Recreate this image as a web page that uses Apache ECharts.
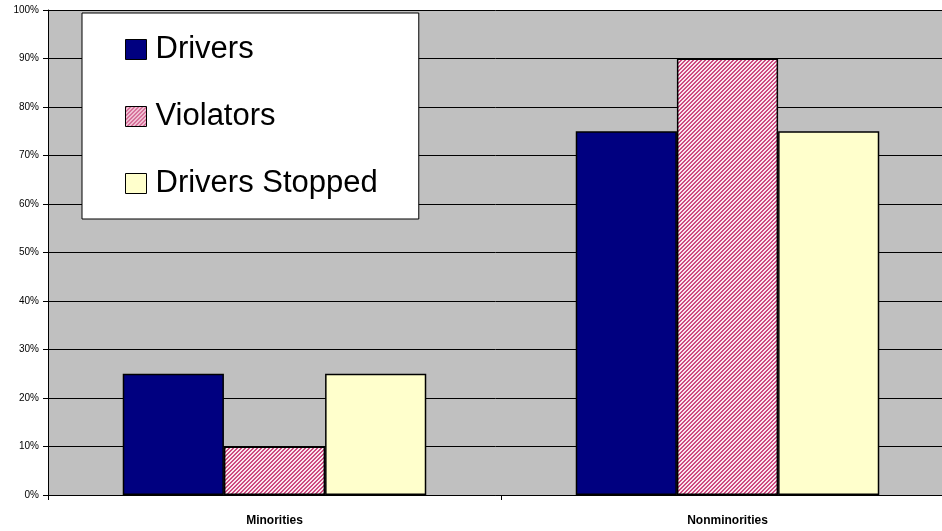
<!DOCTYPE html>
<html>
<head>
<meta charset="utf-8">
<script src="https://cdn.jsdelivr.net/npm/echarts@6/dist/echarts.min.js"></script>
<style>
  html, body { margin: 0; padding: 0; background: #fff; }
  #chart { width: 942px; height: 531px; }
</style>
</head>
<body>
<div id="chart"></div>
<script>
var categories = ["Minorities", "Nonminorities"];
var drivers = [25, 75];
var violators = [10, 90];
var driversStopped = [25, 75];
var yTicks = [0, 10, 20, 30, 40, 50, 60, 70, 80, 90, 100];

// hatched fill for the violators bars
function hatch() {
  var c = document.createElement("canvas");
  c.width = 4;
  c.height = 4;
  var ctx = c.getContext("2d");
  ctx.fillStyle = "#fbe6ee";
  ctx.fillRect(0, 0, 4, 4);
  ctx.fillStyle = "#cc4a80";
  for (var x = 0; x < 4; x++) {
    for (var y = 0; y < 4; y++) {
      if ((x + y) % 4 === 0 || (x + y) % 4 === 1) ctx.fillRect(x, y, 1, 1);
    }
  }
  return c;
}

var hatchFill = { image: hatch(), repeat: "repeat" };
var barBorder = { borderColor: "#000", borderWidth: 1.5 };

var myChart = echarts.init(document.getElementById("chart"));
myChart.setOption({
  animation: false,
  grid: {
    left: 48,
    width: 906,
    top: 10,
    bottom: 36,
    outerBoundsMode: "none",
    containLabel: false,
    show: true,
    backgroundColor: "#c0c0c0",
    borderWidth: 0,
  },
  legend: {
    orient: "vertical",
    left: 82,
    top: 13,
    padding: [21, 41, 20, 43],
    itemGap: 36,
    itemWidth: 21,
    itemHeight: 20,
    icon: "rect",
    backgroundColor: "#ffffff",
    borderColor: "#000",
    borderWidth: 1,
    itemStyle: { borderColor: "#000", borderWidth: 1 },
    textStyle: {
      fontFamily: "Liberation Sans, Arial",
      fontSize: 31,
      color: "#000",
      padding: [0, 0, 0, 4],
    },
    data: ["Drivers", "Violators", "Drivers Stopped"],
  },
  xAxis: {
    type: "category",
    data: categories,
    axisLine: { lineStyle: { color: "#000", width: 1 } },
    axisTick: { show: true, length: 5, lineStyle: { color: "#000" } },
    axisLabel: {
      fontFamily: "Liberation Sans, Arial",
      fontSize: 12,
      fontWeight: "bold",
      color: "#000",
      margin: 20,
    },
  },
  yAxis: {
    type: "value",
    min: yTicks[0],
    max: yTicks[yTicks.length - 1],
    interval: 10,
    axisLine: { show: true, lineStyle: { color: "#000", width: 1 } },
    axisTick: { show: true, length: 5, lineStyle: { color: "#000" } },
    axisLabel: {
      formatter: "{value}%",
      fontFamily: "Liberation Sans, Arial",
      fontSize: 10,
      color: "#000",
      margin: 9,
    },
    splitLine: { lineStyle: { color: "#000", width: 1 } },
  },
  series: [
    {
      name: "Drivers",
      type: "bar",
      data: drivers,
      barGap: "0%",
      barCategoryGap: "33%",
      itemStyle: Object.assign({ color: "#000080" }, barBorder),
    },
    {
      name: "Violators",
      type: "bar",
      data: violators,
      itemStyle: Object.assign({ color: hatchFill }, barBorder),
    },
    {
      name: "Drivers Stopped",
      type: "bar",
      data: driversStopped,
      itemStyle: Object.assign({ color: "#ffffcc" }, barBorder),
    },
  ],
});
</script>
</body>
</html>
